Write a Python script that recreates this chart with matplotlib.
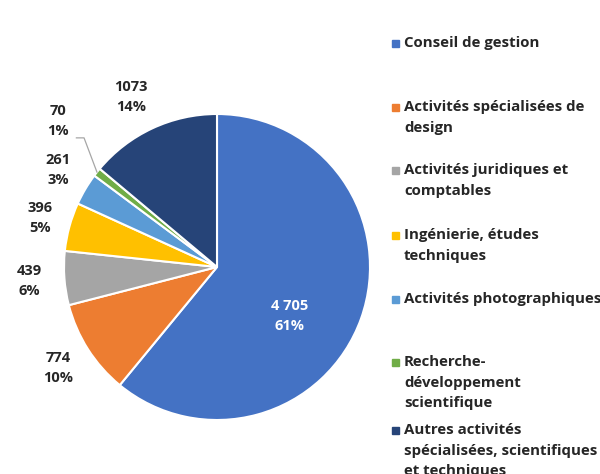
import matplotlib
matplotlib.use("Agg")
import matplotlib.pyplot as plt
from matplotlib.patches import Rectangle
import numpy as np

categories = ["Conseil de gestion",
              "Activités spécialisées de\ndesign",
              "Activités juridiques et\ncomptables",
              "Ingénierie, études\ntechniques",
              "Activités photographiques",
              "Recherche-\ndéveloppement\nscientifique",
              "Autres activités\nspécialisées, scientifiques\net techniques"]
values = [4705, 774, 439, 396, 261, 70, 1073]
value_labels = ["4 705", "774", "439", "396", "261", "70", "1073"]
colors = ["#4472C4", "#ED7D31", "#A5A5A5", "#FFC000", "#5B9BD5", "#70AD47", "#264478"]

# label positions (data coords relative to pie radius)
label_pos = [(0.477, -0.32), (-1.039, -0.66), (-1.229, -0.092), (-1.157, 0.32),
             (-1.039, 0.634), (-1.039, 0.954), (-0.562, 1.111)]
legend_y = [43, 107, 170, 235, 299, 362, 430]

plt.rcParams['font.family'] = ['Open Sans', 'DejaVu Sans']
W, H = 600, 474
fig = plt.figure(figsize=(6, 4.74), dpi=100)
cx, cy, r = 217, 267, 153
ax = fig.add_axes([(cx - r) / W, (H - cy - r) / H, 2 * r / W, 2 * r / H])
wedges, _ = ax.pie(values, colors=colors, startangle=90, counterclock=False, radius=1,
                   wedgeprops=dict(edgecolor="white", linewidth=1.5))
ax.set_xlim(-1, 1)
ax.set_ylim(-1, 1)
ax.set_aspect("equal")
ax.axis("off")

total = sum(values)
for i, (v, vl) in enumerate(zip(values, value_labels)):
    pct = f"{round(100 * v / total)}%"
    x, y = label_pos[i]
    col = "white" if i == 0 else "#262626"
    ax.text(x, y, f"{vl}\n{pct}", ha="center", va="center", fontsize=10.5,
            fontweight="bold", color=col, linespacing=1.6, clip_on=False)

# leader line for small slice
cum = np.cumsum([0] + values)
mid = (cum[5] + cum[6]) / 2 / total * 360
ang = np.deg2rad(90 - mid)
px, py = np.cos(ang), np.sin(ang)
lx, ly = label_pos[5]
ax.plot([lx + 0.12, lx + 0.17, px], [ly - 0.11, ly - 0.11, py], color="#A6A6A6",
        lw=0.9, clip_on=False)

# legend
for i, (cat, c) in enumerate(zip(categories, colors)):
    yy = legend_y[i]
    fig.patches.append(Rectangle((392 / W, 1 - (yy + 4) / H), 7 / W, 7 / H,
                                 transform=fig.transFigure, color=c))
    fig.text(404 / W, 1 - (yy - 7) / H, cat, ha="left", va="top", fontsize=10.8,
             fontweight="bold", color="#262626", linespacing=1.6)

fig.savefig("out.png", dpi=100)
